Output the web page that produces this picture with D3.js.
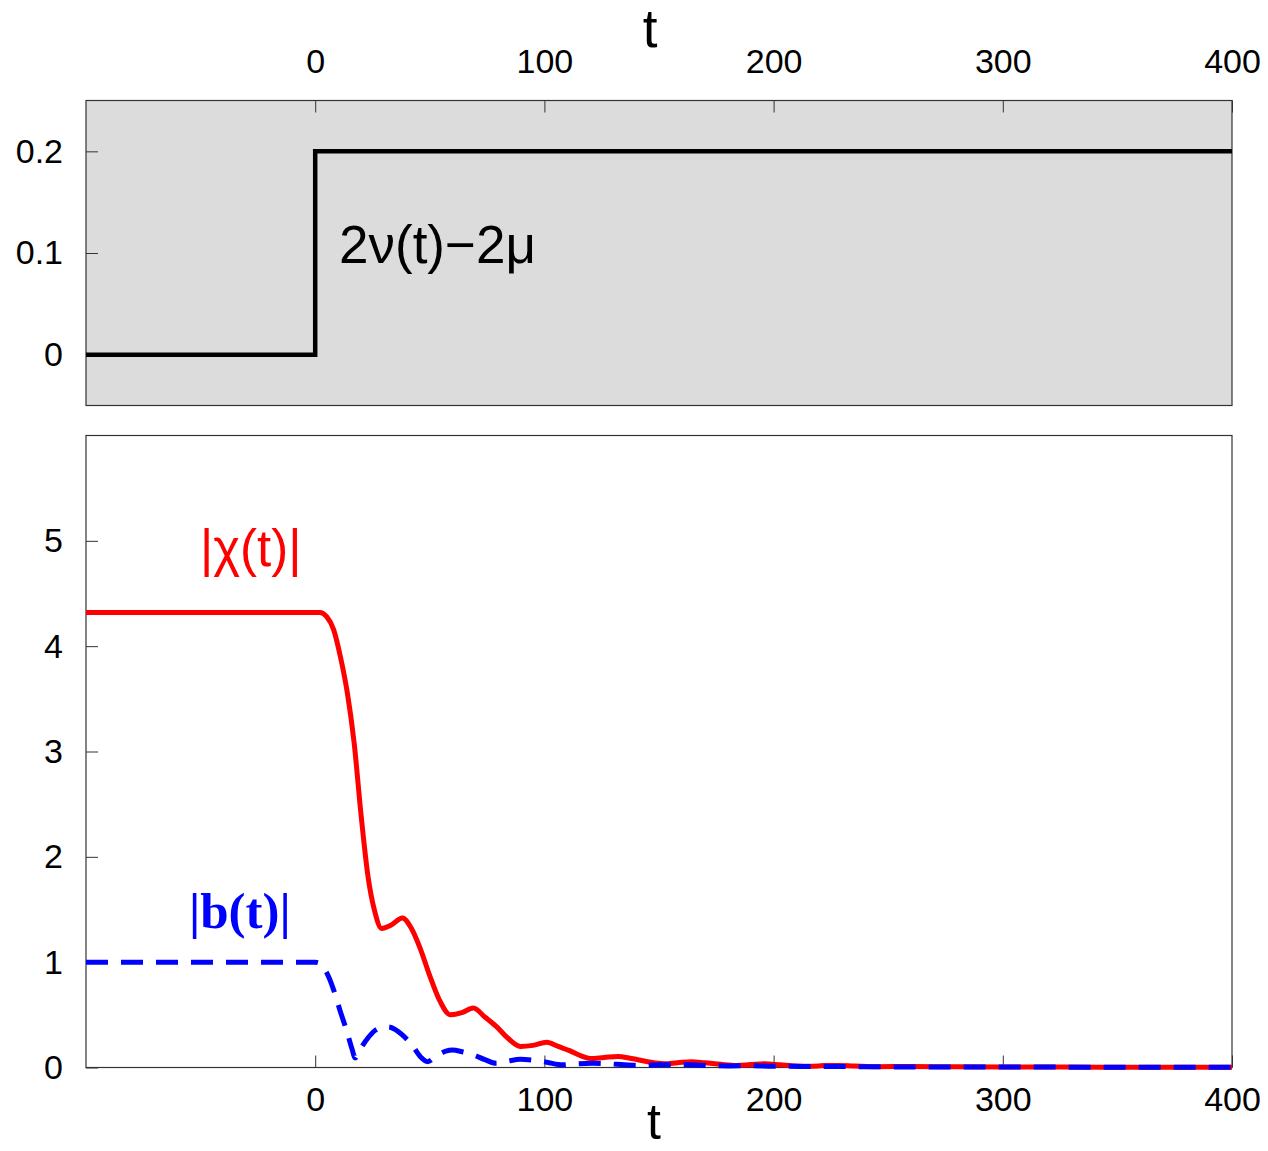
<!DOCTYPE html>
<html>
<head>
<meta charset="utf-8">
<script src="https://cdn.jsdelivr.net/npm/d3@7"></script>
<style>
  body { margin: 0; background: #fff; }
  svg { display: block; }
  .tick text { font-family: "Liberation Sans", Arial, sans-serif; font-size: 34px; fill: #000; }
  .tick line { stroke: #333; stroke-width: 1; }
</style>
</head>
<body>
<div id="chart"></div>
<script>
const width = 1268, height = 1151;

// top panel: 2nu(t) - 2mu (step at t = 0)
const tStep = [-100, 0, 400];
const vStep = [0, 0.2, 0.2];

// bottom panel: |chi(t)|
const tChi = [-100, 0, 2, 5, 8, 11, 14, 17, 20, 23, 26, 29, 33, 38, 42, 46, 50, 54, 59, 64, 69, 74, 79, 84, 89.5,
    95, 101, 106, 111, 116, 120, 126, 132, 138, 145, 152, 158, 164, 170, 177, 184, 190, 196, 203, 210, 216,
    222, 228, 235, 245, 260, 280, 300, 330, 360, 400];
const chi = [4.32, 4.32, 4.32, 4.28, 4.16, 3.90, 3.56, 3.08, 2.40, 1.82, 1.48, 1.32, 1.35, 1.42, 1.32, 1.12, 0.87, 0.65, 0.50, 0.52, 0.565, 0.48, 0.39, 0.28, 0.20,
    0.21, 0.24, 0.20, 0.16, 0.11, 0.085, 0.095, 0.105, 0.085, 0.055, 0.035, 0.045, 0.055, 0.045, 0.03, 0.02, 0.028, 0.035, 0.025, 0.015, 0.012,
    0.018, 0.02, 0.015, 0.008, 0.01, 0.006, 0.005, 0.004, 0.003, 0.003];

// bottom panel: |b(t)|
const tB = [-100, 0, 2, 5, 8, 11, 14, 16, 17.5, 19, 21, 23, 26, 29, 32, 35, 38, 42, 46, 49, 53, 57, 60, 64, 69, 74, 79, 84, 89.5,
    95, 101, 108, 114, 121, 128, 135, 142, 150, 160, 170, 180, 190, 200, 220, 250, 300, 400];
const bVal = [1.0, 1.0, 0.99, 0.90, 0.74, 0.53, 0.33, 0.18, 0.09, 0.15, 0.22, 0.28, 0.35, 0.38, 0.385, 0.36, 0.31, 0.22, 0.10, 0.055, 0.11, 0.155, 0.165, 0.15, 0.12, 0.075, 0.04, 0.06, 0.078,
    0.07, 0.05, 0.025, 0.035, 0.04, 0.035, 0.025, 0.02, 0.025, 0.028, 0.02, 0.015, 0.018, 0.012, 0.01, 0.006, 0.004, 0.003];

const xTicks = [0, 100, 200, 300, 400];
const yTopTicks = [0, 0.1, 0.2];
const yBotTicks = [0, 1, 2, 3, 4, 5];

const svg = d3.select("#chart").append("svg")
    .attr("width", width)
    .attr("height", height)
    .attr("viewBox", [0, 0, width, height]);

const x = d3.scaleLinear().domain([-100, 400]).range([86, 1232]);
const yTop = d3.scaleLinear().domain([-0.05, 0.25]).range([405.5, 100.5]);
const yBot = d3.scaleLinear().domain([0, 6]).range([1067.5, 435.5]);

// panel frames
svg.append("rect")
    .attr("x", x(-100)).attr("y", yTop(0.25))
    .attr("width", x(400) - x(-100)).attr("height", yTop(-0.05) - yTop(0.25))
    .attr("fill", "#dcdcdc").attr("stroke", "#333").attr("stroke-width", 1.2);

svg.append("rect")
    .attr("x", x(-100)).attr("y", yBot(6))
    .attr("width", x(400) - x(-100)).attr("height", yBot(0) - yBot(6))
    .attr("fill", "#fff").attr("stroke", "#333").attr("stroke-width", 1.2);

// axes, ticks pointing inwards
svg.append("g")
    .attr("transform", `translate(0,${yTop(0.25)})`)
    .call(d3.axisTop(x).tickValues(xTicks).tickFormat(d3.format("d")).tickSizeInner(-12).tickSizeOuter(0).tickPadding(28))
    .call(g => g.select(".domain").remove());

svg.append("g")
    .attr("transform", `translate(${x(-100)},0)`)
    .call(d3.axisLeft(yTop).tickValues(yTopTicks).tickFormat(d => d === 0 ? "0" : d3.format(".1f")(d)).tickSizeInner(-12).tickSizeOuter(0).tickPadding(23))
    .call(g => g.select(".domain").remove());

svg.append("g")
    .attr("transform", `translate(0,${yBot(0)})`)
    .call(d3.axisBottom(x).tickValues(xTicks).tickFormat(d3.format("d")).tickSizeInner(-12).tickSizeOuter(0).tickPadding(19))
    .call(g => g.select(".domain").remove());

svg.append("g")
    .attr("transform", `translate(${x(-100)},0)`)
    .call(d3.axisLeft(yBot).tickValues(yBotTicks).tickFormat(d3.format("d")).tickSizeInner(-12).tickSizeOuter(0).tickPadding(23))
    .call(g => g.select(".domain").remove());

// top curve
const stepLine = d3.line()
    .x((d, i) => x(tStep[i]))
    .y(d => yTop(d))
    .curve(d3.curveStepAfter);

svg.append("path")
    .datum(vStep)
    .attr("fill", "none")
    .attr("stroke", "#000")
    .attr("stroke-width", 4.5)
    .attr("d", stepLine);

// bottom curves
const chiLine = d3.line()
    .x((d, i) => x(tChi[i]))
    .y(d => yBot(d))
    .curve(d3.curveMonotoneX);

const bLine = d3.line()
    .x((d, i) => x(tB[i]))
    .y(d => yBot(d))
    .curve(d3.curveMonotoneX);

svg.append("path")
    .datum(chi)
    .attr("fill", "none")
    .attr("stroke", "#ff0000")
    .attr("stroke-width", 5)
    .attr("d", chiLine);

svg.append("path")
    .datum(bVal)
    .attr("fill", "none")
    .attr("stroke", "#0000ff")
    .attr("stroke-width", 5)
    .attr("stroke-dasharray", "22,13")
    .attr("d", bLine);

// labels
const sans = "'Liberation Sans', Arial, sans-serif";

svg.append("text")
    .attr("x", 650).attr("y", 47)
    .attr("text-anchor", "middle")
    .attr("font-family", sans).attr("font-size", 53)
    .text("t");

// kept a little above the bottom edge so it is not clipped
svg.append("text")
    .attr("x", 654).attr("y", 1139)
    .attr("text-anchor", "middle")
    .attr("font-family", sans).attr("font-size", 50)
    .text("t");

svg.append("text")
    .attr("x", 339).attr("y", 263)
    .attr("font-family", sans).attr("font-size", 53)
    .text("2ν(t)−2μ");

svg.append("text")
    .attr("x", 200).attr("y", 566)
    .attr("font-family", sans).attr("font-size", 51)
    .attr("fill", "#ff0000")
    .text("|χ(t)|");

svg.append("text")
    .attr("x", 189).attr("y", 928)
    .attr("font-family", "'Liberation Serif', 'Times New Roman', serif")
    .attr("font-weight", "bold").attr("font-size", 51)
    .attr("fill", "#0000ff")
    .text("|b(t)|");
</script>
</body>
</html>
